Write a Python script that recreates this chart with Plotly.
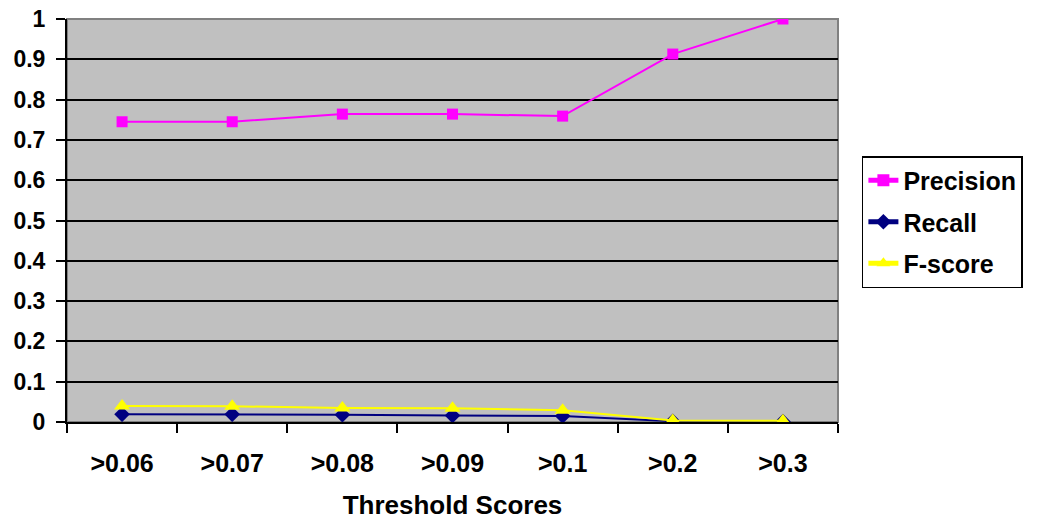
import plotly.graph_objects as go

# Threshold categories and the three evaluation metrics
thresholds = [">0.06", ">0.07", ">0.08", ">0.09", ">0.1", ">0.2", ">0.3"]
precision = [0.745, 0.745, 0.764, 0.764, 0.759, 0.913, 1.0]
recall = [0.019, 0.019, 0.018, 0.016, 0.015, 0.002, 0.001]
fscore = [0.040, 0.039, 0.035, 0.034, 0.029, 0.004, 0.003]

FONT = "Liberation Sans, Arial, sans-serif"

fig = go.Figure()
fig.add_trace(go.Scatter(
    x=thresholds, y=precision, name="Precision", mode="lines+markers",
    legendgroup="p",
    line=dict(color="#FF00FF", width=2),
    marker=dict(symbol="square", size=11, color="#FF00FF"),
))
fig.add_trace(go.Scatter(
    x=thresholds, y=recall, name="Recall", mode="lines+markers",
    legendgroup="r",
    line=dict(color="#000080", width=2),
    marker=dict(symbol="diamond", size=12, color="#000080"),
))
fig.add_trace(go.Scatter(
    x=thresholds, y=fscore, name="F-score", mode="lines+markers",
    legendgroup="f",
    line=dict(color="#FFFF00", width=2),
    marker=dict(symbol="triangle-up", size=14, color="#FFFF00"),
))

# grey frame on top/right of the plotting area
fig.add_shape(type="rect", xref="paper", yref="paper", x0=0, y0=0, x1=1, y1=1,
              line=dict(color="#808080", width=2), layer="below")

fig.update_layout(
    width=1054, height=520,
    margin=dict(l=67, r=216, t=19, b=98),
    paper_bgcolor="white",
    plot_bgcolor="#C0C0C0",
    font=dict(family=FONT, size=20, color="black"),
    showlegend=True,
    legend=dict(
        x=1.031, y=0.66, xanchor="left", yanchor="top",
        bordercolor="black", borderwidth=1.5, bgcolor="white",
        font=dict(family=FONT, size=25, color="black", weight="bold"),
        tracegroupgap=6, itemsizing="constant",
    ),
    xaxis=dict(
        type="category",
        automargin=False,
        showgrid=False,
        showline=True, linecolor="black", linewidth=2,
        ticks="outside", tickson="boundaries", ticklen=9, tickwidth=2,
        tickcolor="black",
        tickfont=dict(family=FONT, size=25, weight="bold"),
        ticklabelstandoff=18,
        title=dict(text="Threshold Scores", standoff=23,
                   font=dict(family=FONT, size=26, weight="bold")),
        range=[-0.5, 6.5],
    ),
    yaxis=dict(
        automargin=False,
        range=[0, 1],
        tickvals=[0, 0.1, 0.2, 0.3, 0.4, 0.5, 0.6, 0.7, 0.8, 0.9, 1],
        ticktext=["0", "0.1", "0.2", "0.3", "0.4", "0.5", "0.6", "0.7", "0.8", "0.9", "1"],
        showgrid=True, gridcolor="black", gridwidth=2,
        showline=True, linecolor="black", linewidth=2,
        ticks="outside", ticklen=9, tickwidth=2, tickcolor="black",
        tickfont=dict(family=FONT, size=23, weight="bold"),
        ticklabelstandoff=6,
        zeroline=False,
    ),
)

fig.write_html("out.html")
